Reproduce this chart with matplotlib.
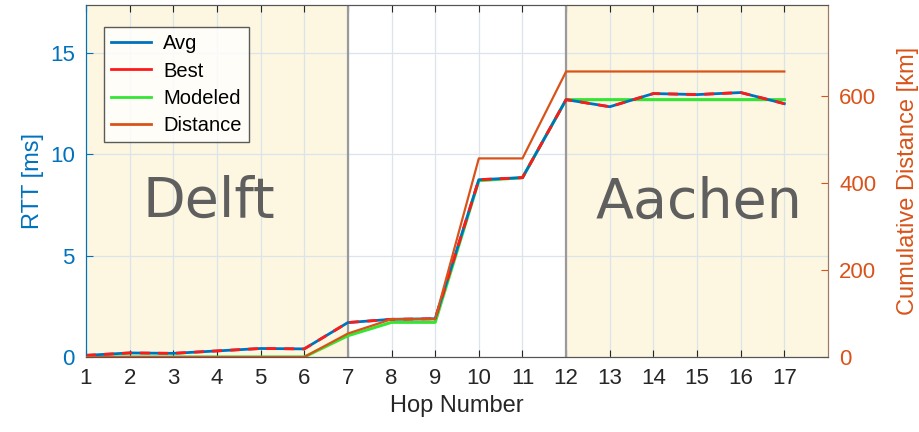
import matplotlib
matplotlib.use("Agg")
import matplotlib.pyplot as plt
from matplotlib.lines import Line2D

hops = list(range(1, 18))
avg_rtt = [0.08, 0.2, 0.18, 0.3, 0.42, 0.4, 1.7, 1.86, 1.89, 8.75, 8.85, 12.7, 12.35, 13.0, 12.95, 13.05, 12.5]
best_rtt = [0.08, 0.2, 0.18, 0.3, 0.42, 0.4, 1.7, 1.86, 1.89, 8.75, 8.85, 12.7, 12.35, 13.0, 12.95, 13.05, 12.5]
modeled_rtt = [0, 0, 0, 0, 0, 0, 1.05, 1.71, 1.71, 8.7, 8.85, 12.7, 12.7, 12.7, 12.7, 12.7, 12.7]
distance_km = [0, 0, 0, 0, 0, 0, 54, 87, 87, 457, 457, 657, 657, 657, 657, 657, 657]

regions = ["Delft", "Aachen"]
region_spans = [(1, 7), (12, 18)]
region_label_pos = [(3.82, 7.65), (15.04, 7.6)]

BLUE = "#0072BD"
ORANGE = "#D95319"
RED = "#FF1A1A"
GREEN = "#33E633"
SHADE = "#FDF7E1"

plt.rcParams['font.family'] = ['Liberation Sans', 'DejaVu Sans']

fig = plt.figure(figsize=(9.2, 4.32), dpi=100)
ax = fig.add_axes([86/920, 75/432, 742/920, 352/432])
ax2 = ax.twinx()

for (a, b) in region_spans:
    ax.axvspan(a, b, color=SHADE, zorder=0, lw=0)
for x in (7, 12):
    ax.axvline(x, color="#9a9a9a", lw=1.6, zorder=1)

ax.grid(True, color="#dde3ea", lw=0.9, zorder=0.5)
ax.set_axisbelow(True)

ax.plot(hops, avg_rtt, color=BLUE, lw=2.0, zorder=3)
ax.plot(hops, best_rtt, color=RED, lw=2.0, ls=(0, (3.5, 3)), zorder=4)
ax.plot(hops, modeled_rtt, color=GREEN, lw=2.2, zorder=2.5)
ax2.plot(hops, distance_km, color=ORANGE, lw=1.6, zorder=3)

for name, (x, y) in zip(regions, region_label_pos):
    ax.text(x, y, name, ha="center", va="center", fontsize=40, color="#5f5f5f",
            family=["DejaVu Sans"], zorder=5)

ax.set_xlim(1, 18)
ax.set_ylim(0, 17.37)
ax2.set_ylim(0, 810)
ax.set_xticks(hops)
ax.set_yticks([0, 5, 10, 15])
ax2.set_yticks([0, 200, 400, 600])

ax.tick_params(axis="x", direction="in", top=True, labelsize=16, colors="#262626", length=5, pad=8)
ax.tick_params(axis="y", direction="in", labelsize=16, colors=BLUE, length=5, pad=8)
ax2.tick_params(axis="y", direction="in", labelsize=16, colors=ORANGE, length=5, pad=8)

ax.set_xlabel("Hop Number", fontsize=17, color="#262626", labelpad=4)
ax.set_ylabel("RTT [ms]", fontsize=17, color=BLUE, labelpad=4)
ax2.set_ylabel("Cumulative Distance [km]", fontsize=17, color=ORANGE, labelpad=15)

ax.spines["left"].set_color(BLUE)
ax2.spines["left"].set_color(BLUE)
ax2.spines["right"].set_color("#9c7a66")
ax.spines["right"].set_color("#9c7a66")
for sp in ("top", "bottom"):
    ax.spines[sp].set_color("#555555")
    ax2.spines[sp].set_color("#555555")

ax2.set_zorder(ax.get_zorder() + 1)
ax2.patch.set_visible(False)

handles = [Line2D([], [], color=BLUE, lw=2), Line2D([], [], color=RED, lw=2),
           Line2D([], [], color=GREEN, lw=2), Line2D([], [], color=ORANGE, lw=2)]
leg = ax2.legend(handles, ["Avg", "Best", "Modeled", "Distance"], loc="upper left",
                 bbox_to_anchor=(18/742, 1 - 22/352), fontsize=14.5, frameon=True,
                 fancybox=False, edgecolor="#333333", handlelength=2.0,
                 handletextpad=0.6, borderpad=0.35, labelspacing=0.42, borderaxespad=0)
leg.get_frame().set_linewidth(1.0)
leg.set_zorder(10)

fig.savefig("out.png", dpi=100)
